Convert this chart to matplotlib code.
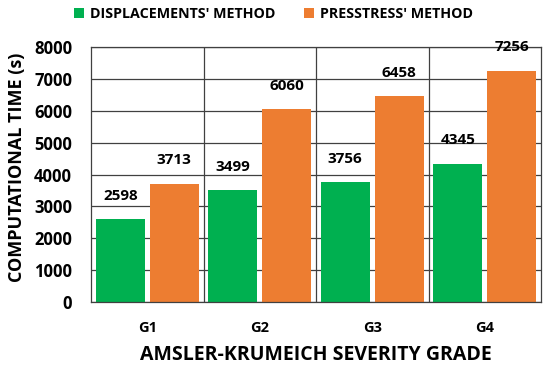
import matplotlib
matplotlib.use("Agg")
import matplotlib.pyplot as plt
import numpy as np

categories = ["G1", "G2", "G3", "G4"]
displacements = [2598, 3499, 3756, 4345]
presstress = [3713, 6060, 6458, 7256]
series_names = ["DISPLACEMENTS' METHOD", "PRESSTRESS' METHOD"]
yticks = [0, 1000, 2000, 3000, 4000, 5000, 6000, 7000, 8000]

plt.rcParams['font.family'] = ['Open Sans', 'DejaVu Sans']
plt.rcParams['font.weight'] = 'bold'

fig = plt.figure(figsize=(5.5, 3.65), dpi=100)
ax = fig.add_axes([91 / 550, 1 - 302 / 365, 450 / 550, 255 / 365])

green = "#00B050"
orange = "#ED7D31"
gridc = "#404040"
x = np.arange(len(categories))
w = 0.435
b1 = ax.bar(x - 0.24, displacements, w, color=green, label=series_names[0], zorder=2)
b2 = ax.bar(x + 0.24, presstress, w, color=orange, label=series_names[1], zorder=2)

for bars, vals in ((b1, displacements), (b2, presstress)):
    for r, v in zip(bars, vals):
        ax.text(r.get_x() + r.get_width() / 2, v + 730, str(v), ha='center', va='center',
                fontsize=11, fontweight='bold', color='black', zorder=3)

ax.set_xlim(-0.5, len(categories) - 0.5)
ax.set_ylim(0, 8000)
ax.set_yticks(yticks)
ax.set_yticklabels([str(t) for t in yticks], fontsize=12, fontweight='bold')
ax.set_xticks(x)
ax.set_xticklabels(categories, fontsize=10.5, fontweight='bold')
ax.tick_params(axis='x', length=0, pad=13.5)
ax.tick_params(axis='y', length=0, pad=13.5)
ax.yaxis.grid(True, color=gridc, lw=0.9, zorder=0)
ax.set_axisbelow(True)
for b in np.arange(0.5, len(categories) - 0.5, 1):
    ax.axvline(b, color=gridc, lw=0.9, zorder=1)
for s in ax.spines.values():
    s.set_color(gridc)
    s.set_linewidth(0.9)

ax.set_ylabel("COMPUTATIONAL TIME (s)", fontsize=13, fontweight='bold')
ax.yaxis.set_label_coords(-0.144, 0.53)
ax.set_xlabel("AMSLER-KRUMEICH SEVERITY GRADE", fontsize=14, fontweight='bold', labelpad=7.5)

fig.legend(loc='upper center', bbox_to_anchor=(0.497, 1.015), ncol=2, frameon=False,
           prop={'weight': 'bold', 'size': 10.3}, handlelength=0.7, handleheight=0.7,
           columnspacing=2.0, handletextpad=0.4)

fig.savefig("out.png", dpi=100)
